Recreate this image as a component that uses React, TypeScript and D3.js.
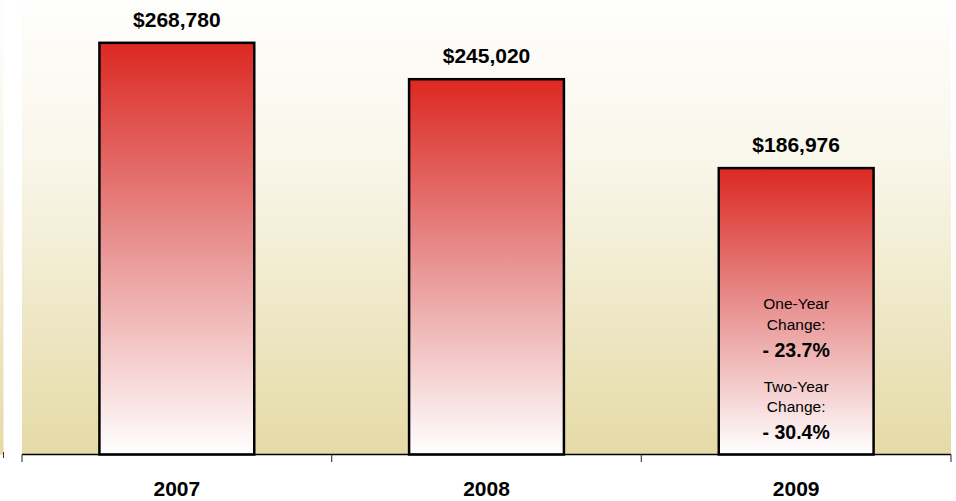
import React from "react";
import * as d3 from "d3";

const years = ["2007", "2008", "2009"];
const values = [268780, 245020, 186976];
const valueLabels = ["$268,780", "$245,020", "$186,976"];
const noteLines = ["One-Year", "Change:", "- 23.7%", "Two-Year", "Change:", "- 30.4%"];
const noteBold = [false, false, true, false, false, true];

const W = 956;
const H = 501;
const plotLeft = 22;
const plotRight = 951;
const baseY = 454.5;

export default function App() {
  const x = d3.scaleBand<string>().domain(years).range([plotLeft, plotRight]).paddingInner(0.5).paddingOuter(0.25);
  const y = d3.scaleLinear().domain([0, 300000]).range([baseY, -5]);
  const step = x.step();
  const tickXs = d3.range(years.length + 1).map((i) => plotLeft + i * step);
  const noteY = [309, 330, 357, 392, 412, 439];
  const lastX = (x(years[2]) as number) + x.bandwidth() / 2;

  return (
    <svg width={W} height={H} style={{ position: "absolute", left: 0, top: 0, fontFamily: "Liberation Sans, Arial, sans-serif" }}>
      <defs>
        <linearGradient id="bg" x1="0" y1="0" x2="0" y2="1">
          <stop offset="0" stopColor="#fefefd" />
          <stop offset="0.35" stopColor="#f9f6ea" />
          <stop offset="1" stopColor="#e5daa6" />
        </linearGradient>
        <linearGradient id="bar" x1="0" y1="0" x2="0" y2="1">
          <stop offset="0" stopColor="#dc2822" />
          <stop offset="0.5" stopColor="#e89594" />
          <stop offset="1" stopColor="#ffffff" />
        </linearGradient>
      </defs>
      <rect x={0} y={0} width={W} height={H} fill="#ffffff" />
      {/* left strip from neighbouring chart */}
      <rect x={0} y={0} width={3.5} height={baseY} fill="url(#bg)" />
      <line x1={3.5} x2={3.5} y1={452} y2={458} stroke="#333" strokeWidth={1} />
      {/* plot background */}
      <rect x={plotLeft} y={0} width={plotRight - plotLeft} height={baseY} fill="url(#bg)" />
      {/* bars */}
      {years.map((yr, i) => (
        <rect
          key={yr}
          x={x(yr)}
          y={y(values[i])}
          width={x.bandwidth()}
          height={baseY - y(values[i])}
          fill="url(#bar)"
          stroke="#000"
          strokeWidth={2.5}
        />
      ))}
      {/* axis */}
      <line x1={plotLeft} x2={plotRight} y1={baseY} y2={baseY} stroke="#000" strokeWidth={1.5} />
      {tickXs.map((tx, i) => (
        <line key={i} x1={tx} x2={tx} y1={baseY} y2={462} stroke="#444" strokeWidth={1.2} />
      ))}
      {/* value labels */}
      {years.map((yr, i) => (
        <text
          key={"v" + yr}
          x={(x(yr) as number) + x.bandwidth() / 2}
          y={y(values[i]) - 16}
          textAnchor="middle"
          fontSize={21}
          fontWeight="bold"
          fill="#000"
        >
          {valueLabels[i]}
        </text>
      ))}
      {/* year labels */}
      {years.map((yr) => (
        <text
          key={"y" + yr}
          x={(x(yr) as number) + x.bandwidth() / 2}
          y={496}
          textAnchor="middle"
          fontSize={21}
          fontWeight="bold"
          fill="#000"
        >
          {yr}
        </text>
      ))}
      {/* change notes */}
      {noteLines.map((t, i) => (
        <text
          key={"n" + i}
          x={lastX}
          y={noteY[i]}
          textAnchor="middle"
          fontSize={noteBold[i] ? 19.5 : 15.5}
          fontWeight={noteBold[i] ? "bold" : "normal"}
          fill="#000"
        >
          {t}
        </text>
      ))}
    </svg>
  );
}
